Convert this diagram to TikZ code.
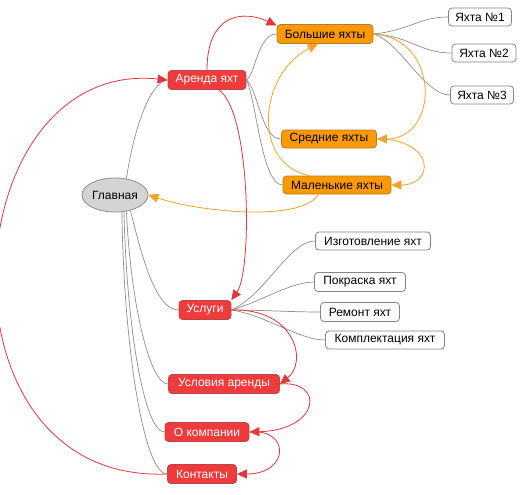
\documentclass[tikz,border=0pt]{standalone}
\usepackage{fontspec}
\setmainfont{Liberation Sans}
\usetikzlibrary{arrows.meta,shapes.geometric}
\definecolor{redfill}{HTML}{EF3B3C}
\definecolor{redborder}{HTML}{B84848}
\definecolor{orfill}{HTML}{FF9900}
\definecolor{orborder}{HTML}{B87A28}
\definecolor{grayfill}{HTML}{D4D4D4}
\definecolor{grayborder}{HTML}{8C8C8C}
\definecolor{wborder}{HTML}{858585}
\definecolor{glinec}{HTML}{8E8E8E}
\definecolor{rlinec}{HTML}{E0383C}
\definecolor{olinec}{HTML}{F2A32A}
\begin{document}
\begin{tikzpicture}[x=1pt,y=-1pt,
  box/.style={rectangle, rounded corners=3.5pt, inner sep=0pt, minimum height=19pt,
    font=\fontsize{12}{14}\selectfont, line width=0.8pt},
  redbox/.style={box, fill=redfill, draw=redborder, text=white},
  orbox/.style={box, fill=orfill, draw=orborder, text=black},
  whbox/.style={box, fill=white, draw=wborder, text=black},
  gline/.style={draw=glinec, line width=0.7pt},
  rarrow/.style={draw=rlinec, line width=0.8pt, -{Triangle[length=10pt,width=9pt]}},
  oarrow/.style={draw=olinec, line width=0.8pt, -{Triangle[length=10pt,width=9pt]}}]
\useasboundingbox (0,0) rectangle (522,495);
\fill[white] (0,0) rectangle (522,495);

% nodes
\node[ellipse, fill=grayfill, draw=grayborder, line width=0.8pt, minimum width=66pt, minimum height=34pt, inner sep=0pt,
  font=\fontsize{12}{14}\selectfont] (main) at (115,195) {Главная};
\node[redbox, minimum width=78pt] (arenda) at (207,80) {Аренда яхт};
\node[orbox, minimum width=96pt] (bolshie) at (325,34) {Большие яхты};
\node[whbox, minimum width=63pt, minimum height=18pt] (y1) at (480,17) {Яхта №1};
\node[whbox, minimum width=64pt, minimum height=18pt] (y2) at (484,53) {Яхта №2};
\node[whbox, minimum width=63pt, minimum height=18pt] (y3) at (482,95) {Яхта №3};
\node[orbox, minimum width=95pt, minimum height=18pt] (srednie) at (329,139) {Средние яхты};
\node[orbox, minimum width=108pt, minimum height=18pt] (malenkie) at (337,185) {Маленькие яхты};
\node[whbox, minimum width=115pt, minimum height=18pt] (izg) at (373,241) {Изготовление яхт};
\node[whbox, minimum width=91pt] (pokr) at (360,282) {Покраска яхт};
\node[whbox, minimum width=79pt] (rem) at (360,312) {Ремонт яхт};
\node[whbox, minimum width=119pt, minimum height=18pt] (kompl) at (385,340) {Комплектация яхт};
\node[redbox, minimum width=52pt] (uslugi) at (205,310) {Услуги};
\node[redbox, minimum width=111pt] (usloviya) at (224,384) {Условия аренды};
\node[redbox, minimum width=84pt] (okomp) at (207,432) {О компании};
\node[redbox, minimum width=69pt] (kont) at (202,474) {Контакты};

% gray hierarchy lines
\draw[gline] (main.55) .. controls +(7,-48) and +(-18,2) .. (arenda.west);
\draw[gline] (main.-45) .. controls +(10,40) and +(-24,0) .. (uslugi.west);
\draw[gline] (main.-55) .. controls +(4,89) and +(-19,0) .. (usloviya.west);
\draw[gline] (main.-62) .. controls +(3,119) and +(-20,0) .. (okomp.west);
\draw[gline] (main.-68) .. controls +(2,138) and +(-23,0) .. (kont.west);
\draw[gline] (arenda.east) .. controls +(9,-5) and +(-19,0) .. (bolshie.west);
\draw[gline] (arenda.east) .. controls +(12,10) and +(-20,0) .. (srednie.west);
\draw[gline] (arenda.east) .. controls +(10,20) and +(-21,0) .. (malenkie.west);
\draw[gline] (bolshie.east) .. controls +(37,-4) and +(-29,0) .. (y1.west);
\draw[gline] (bolshie.east) .. controls +(37,2) and +(-32,0) .. (y2.west);
\draw[gline] (bolshie.east) .. controls +(27,8) and +(-26,0) .. (y3.west);
\draw[gline] (uslugi.east) .. controls +(34,-15) and +(-26,0) .. (izg.west);
\draw[gline] (uslugi.east) .. controls +(29,-8) and +(-24,0) .. (pokr.west);
\draw[gline] (uslugi.east) .. controls +(30,0) and +(-30,0) .. (rem.west);
\draw[gline] (uslugi.east) .. controls +(34,5) and +(-26,0) .. (kompl.west);

% red arrows
\draw[rarrow] (arenda.north) .. controls +(0,-58) and +(-32,-15) .. (bolshie.170);
\draw[rarrow] (arenda.-40) .. controls +(32,21) and +(21,-30) .. (uslugi.north east);
\draw[rarrow] (kont.west) .. controls +(-240,10) and +(-215,-22) .. (arenda.west);
\draw[rarrow] (uslugi.east) .. controls +(64,-2) and +(28,-22) .. (usloviya.east);
\draw[rarrow] (usloviya.east) .. controls +(45,-4) and +(71,-2) .. (okomp.east);
\draw[rarrow] (okomp.east) .. controls +(41,-4) and +(53,0) .. (kont.east);

% orange arrows
\draw[oarrow] (bolshie.east) .. controls +(67,4) and +(63,0) .. (srednie.east);
\draw[oarrow] (srednie.east) .. controls +(58,0) and +(44,0) .. (malenkie.east);
\draw[oarrow] (malenkie.-153) .. controls +(-18,28) and +(52,17) .. (main.east);
\draw[oarrow] (malenkie.161) .. controls +(-58,-11) and +(-60,31) .. (bolshie.-126);
\end{tikzpicture}
\end{document}
